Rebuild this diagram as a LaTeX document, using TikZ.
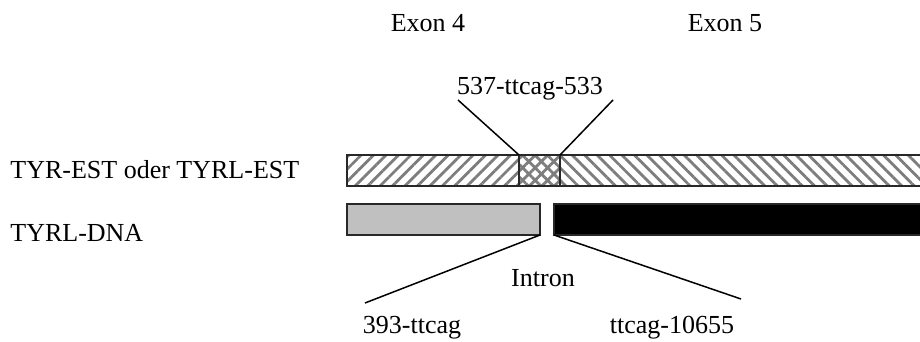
\documentclass[tikz,border=0pt]{standalone}
\usepackage{fontspec}
\setmainfont{Liberation Serif}
\usetikzlibrary{positioning,patterns.meta}
\definecolor{hatchgray}{RGB}{125,125,125}
\definecolor{dnagray}{RGB}{192,192,192}
\definecolor{barborder}{RGB}{40,40,40}

\begin{document}
\begin{tikzpicture}[x=0.5pt, y=-0.5pt, font=\fontsize{13}{15}\selectfont]
  \tikzstyle{bar}=[rectangle,draw=barborder,line width=0.6pt,inner sep=0pt,outer sep=0pt,minimum height=15.5pt,anchor=north west]
  \tikzstyle{lbl}=[inner sep=0pt,anchor=base]
  \tikzstyle{hatchne}=[pattern={Lines[angle=45,distance=4.4pt,line width=1.4pt]},pattern color=hatchgray]
  \tikzstyle{hatchnw}=[pattern={Lines[angle=-45,distance=4.4pt,line width=1.4pt]},pattern color=hatchgray]
  \tikzstyle{link}=[line width=0.75pt,black]
  \clip (0,0) rectangle (920,342);

  % EST bar: exon 4 part, junction, exon 5 part
  \node[bar,hatchne,minimum width=86pt] (est4) at (347,155) {};
  \node[bar,hatchne,minimum width=20.5pt,right=0pt of est4] (junc) {};
  \path[hatchnw] (junc.south west) rectangle (junc.north east);
  \draw[barborder,line width=0.6pt] (junc.south west) rectangle (junc.north east);
  \node[bar,hatchnw,minimum width=190pt,right=0pt of junc] (est5) {};

  % DNA bar
  \node[bar,fill=dnagray,minimum width=96.5pt] (dna4) at (347,204) {};
  \node[bar,fill=black,minimum width=190pt] (dna5) at (554,204) {};

  % labels
  \node[lbl] (exon4) at (428,32) {Exon 4};
  \node[lbl] (exon5) at (725,32) {Exon 5};
  \node[lbl] (junclbl) at (530,95) {537-ttcag-533};
  \node[lbl,anchor=base west] (estlbl) at (10,178) {TYR-EST oder TYRL-EST};
  \node[lbl,anchor=base west] (dnalbl) at (10,241) {TYRL-DNA};
  \node[lbl] (intron) at (543,286) {Intron};
  \node[lbl] (lbl393) at (412,333) {393-ttcag};
  \node[lbl] (lbl10655) at (672,333) {ttcag-10655};

  \coordinate (c537l) at (458,100);
  \coordinate (c537r) at (613,100);
  \coordinate (c393) at (365,303);
  \coordinate (c10655) at (741,299);

  \draw[link] (c537l) -- (junc.north west);
  \draw[link] (c537r) -- (junc.north east);
  \draw[link] (c393) -- (dna4.south east);
  \draw[link] (dna5.south west) -- (c10655);
\end{tikzpicture}
\end{document}
